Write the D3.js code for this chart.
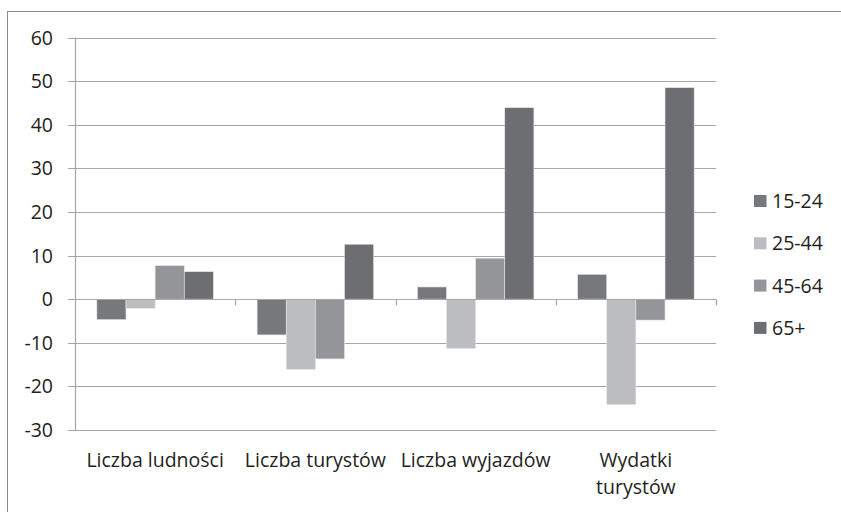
<!DOCTYPE html>
<html>
<head>
<meta charset="utf-8">
<script src="https://cdn.jsdelivr.net/npm/d3@7"></script>
<style>
  body { margin: 0; background: #fff; }
  text { font-family: "Open Sans", "Noto Sans", sans-serif; fill: #231f20; }
</style>
</head>
<body>
<div id="chart"></div>
<script>
// data
var categories = ["Liczba ludności", "Liczba turystów", "Liczba wyjazdów", "Wydatki turystów"];
var categoryLines = [["Liczba ludności"], ["Liczba turystów"], ["Liczba wyjazdów"], ["Wydatki", "turystów"]];
var seriesNames = ["15-24", "25-44", "45-64", "65+"];
var s15_24 = [-4.7, -8.2, 2.8, 5.7];
var s25_44 = [-2.1, -16.1, -11.3, -24.2];
var s45_64 = [7.7, -13.7, 9.4, -4.8];
var s65 = [6.3, 12.6, 43.9, 48.5];
var yTicks = [-30, -20, -10, 0, 10, 20, 30, 40, 50, 60];
var colors = ["#77787b", "#bcbdc0", "#949598", "#6d6e71"];

var series = [s15_24, s25_44, s45_64, s65];

var width = 841, height = 512;
var fontSize = 19.5;

var svg = d3.select("#chart").append("svg")
    .attr("width", width)
    .attr("height", height);

// outer frame
svg.append("rect")
    .attr("x", 7.5).attr("y", 11.5)
    .attr("width", width).attr("height", height)
    .attr("fill", "none").attr("stroke", "#8c8c8c").attr("stroke-width", 1);

var x0 = d3.scaleBand().domain(categories).range([75, 716]).paddingInner(0).paddingOuter(0);
var x1 = d3.scaleBand().domain(seriesNames).range([0, x0.bandwidth()]).paddingOuter(0.75);
var y = d3.scaleLinear().domain([-30, 60]).range([430, 37.5]);

// gridlines
svg.append("g").selectAll("line")
    .data(yTicks)
    .enter().append("line")
    .attr("x1", 68).attr("x2", 716)
    .attr("y1", function(d) { return Math.round(y(d)) + 0.5; })
    .attr("y2", function(d) { return Math.round(y(d)) + 0.5; })
    .attr("stroke", "#a6a6a6").attr("stroke-width", 1.2);

// bars
var layer = svg.append("g").selectAll("g")
    .data(series)
    .enter().append("g")
    .attr("fill", function(d, i) { return colors[i]; });

layer.selectAll("rect")
    .data(function(d, i) { return d.map(function(v, j) { return {v: v, cat: categories[j], s: seriesNames[i]}; }); })
    .enter().append("rect")
    .attr("x", function(d) { return x0(d.cat) + x1(d.s); })
    .attr("width", x1.bandwidth())
    .attr("y", function(d) { return y(Math.max(0, d.v)); })
    .attr("height", function(d) { return Math.abs(y(d.v) - y(0)); })
    .attr("stroke", "#e6e6e6").attr("stroke-width", 0.6);

// y axis line
svg.append("line")
    .attr("x1", 75.5).attr("x2", 75.5)
    .attr("y1", y(60)).attr("y2", y(-30) + 0.5)
    .attr("stroke", "#a6a6a6").attr("stroke-width", 1.2);

// zero axis line with category ticks
var y0 = Math.round(y(0)) + 0.5;
svg.append("line")
    .attr("x1", 75).attr("x2", 716)
    .attr("y1", y0).attr("y2", y0)
    .attr("stroke", "#a6a6a6").attr("stroke-width", 1.2);
svg.append("g").selectAll("line")
    .data(categories)
    .enter().append("line")
    .attr("x1", function(d) { return Math.round(x0(d) + x0.bandwidth()) + 0.5; })
    .attr("x2", function(d) { return Math.round(x0(d) + x0.bandwidth()) + 0.5; })
    .attr("y1", y0).attr("y2", y0 + 6)
    .attr("stroke", "#a6a6a6").attr("stroke-width", 1.2);

// y tick labels
svg.append("g").selectAll("text")
    .data(yTicks)
    .enter().append("text")
    .attr("x", 53)
    .attr("y", function(d) { return y(d); })
    .attr("dy", "0.36em")
    .attr("text-anchor", "end")
    .attr("font-size", fontSize)
    .text(function(d) { return d; });

// category labels
var catG = svg.append("g").selectAll("text")
    .data(categories)
    .enter().append("text")
    .attr("x", function(d) { return x0(d) + x0.bandwidth() / 2; })
    .attr("y", 467)
    .attr("text-anchor", "middle")
    .attr("font-size", fontSize);
catG.selectAll("tspan")
    .data(function(d, i) { return categoryLines[i]; })
    .enter().append("tspan")
    .attr("x", function() { return d3.select(this.parentNode).attr("x"); })
    .attr("dy", function(d, i) { return i === 0 ? 0 : 27; })
    .text(function(d) { return d; });

// legend
var legend = svg.append("g").selectAll("g")
    .data(seriesNames)
    .enter().append("g")
    .attr("transform", function(d, i) { return "translate(754," + (201 + i * 42.3) + ")"; });
legend.append("rect")
    .attr("x", 0).attr("y", -6)
    .attr("width", 12.5).attr("height", 12)
    .attr("fill", function(d, i) { return colors[i]; });
legend.append("text")
    .attr("x", 18).attr("y", 0)
    .attr("dy", "0.36em")
    .attr("font-size", fontSize)
    .text(function(d) { return d; });
</script>
</body>
</html>
